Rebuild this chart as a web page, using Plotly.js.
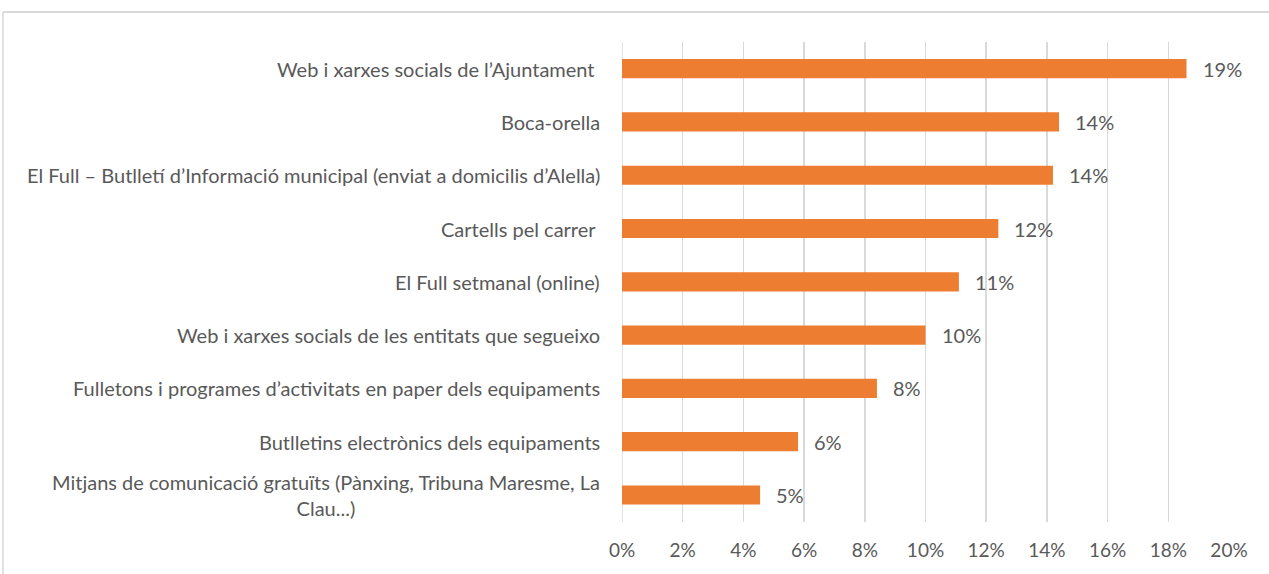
<!DOCTYPE html>
<html><head><meta charset="utf-8">
<script src="https://cdn.plot.ly/plotly-3.0.1.min.js"></script>
<style>html,body{margin:0;padding:0;background:#fff;}</style>
</head><body>
<div id="chart" style="width:1269px;height:574px;"></div>
<script>
var categories = [
  "Web i xarxes socials de l’Ajuntament ",
  "Boca-orella",
  "El Full – Butlletí d’Informació municipal (enviat a domicilis d’Alella)",
  "Cartells pel carrer ",
  "El Full setmanal (online)",
  "Web i xarxes socials de les entitats que segueixo",
  "Fulletons i programes d’activitats en paper dels equipaments",
  "Butlletins electrònics dels equipaments",
  "Mitjans de comunicació gratuïts (Pànxing, Tribuna Maresme, La<br>Clau...)"
];
var values = [0.186, 0.144, 0.142, 0.124, 0.111, 0.100, 0.084, 0.058, 0.0455];
var xTickVals = [0, 0.02, 0.04, 0.06, 0.08, 0.10, 0.12, 0.14, 0.16, 0.18, 0.20];

var FONT = "Lato, 'Open Sans', sans-serif";

var trace = {
  type: 'bar', orientation: 'h',
  x: values, y: categories,
  marker: {color: '#ED7D31'},
  hoverinfo: 'skip'
};

var annotations = [];
categories.forEach(function(c, i){
  annotations.push({
    xref: 'paper', yref: 'y', x: 0, y: c, xanchor: 'right', yanchor: 'middle',
    xshift: -20, text: c, showarrow: false, align: 'center',
    font: {family: FONT, size: 20, color: '#595959'}
  });
  annotations.push({
    xref: 'x', yref: 'y', x: values[i], y: c, xanchor: 'left', yanchor: 'middle',
    xshift: 14, text: Math.round(values[i]*100) + '%', showarrow: false,
    font: {family: FONT, size: 20, color: '#595959'}
  });
});

var layout = {
  width: 1269, height: 574,
  margin: {l: 622, r: 40, t: 42, b: 52},
  paper_bgcolor: '#ffffff', plot_bgcolor: '#ffffff',
  showlegend: false,
  bargap: 0.64,
  xaxis: {
    range: [0, 0.2], tickvals: xTickVals, tickformat: '.0%',
    showgrid: true, gridcolor: '#d9d9d9', gridwidth: 1.5,
    zeroline: false, showline: false, ticks: '',
    ticklabelstandoff: 15,
    tickfont: {family: FONT, size: 19, color: '#595959'}
  },
  yaxis: {
    autorange: 'reversed', showticklabels: false, showgrid: false,
    zeroline: false, showline: false, ticks: '', type: 'category'
  },
  annotations: annotations,
  shapes: [
    {type: 'line', xref: 'paper', yref: 'paper', x0: -1.0198, x1: 1.07, y0: 1.0625, y1: 1.0625,
     line: {color: '#d9d9d9', width: 2}},
    {type: 'line', xref: 'paper', yref: 'paper', x0: -1.0198, x1: -1.0198, y0: 1.0625, y1: -0.2,
     line: {color: '#d9d9d9', width: 1.5}},
    {type: 'line', xref: 'x', yref: 'paper', x0: 0, x1: 0, y0: 0, y1: 1,
     line: {color: '#d9d9d9', width: 1.5}, layer: 'below'}
  ]
};

Plotly.newPlot('chart', [trace], layout, {displayModeBar: false, staticPlot: true});
</script>
</body></html>
